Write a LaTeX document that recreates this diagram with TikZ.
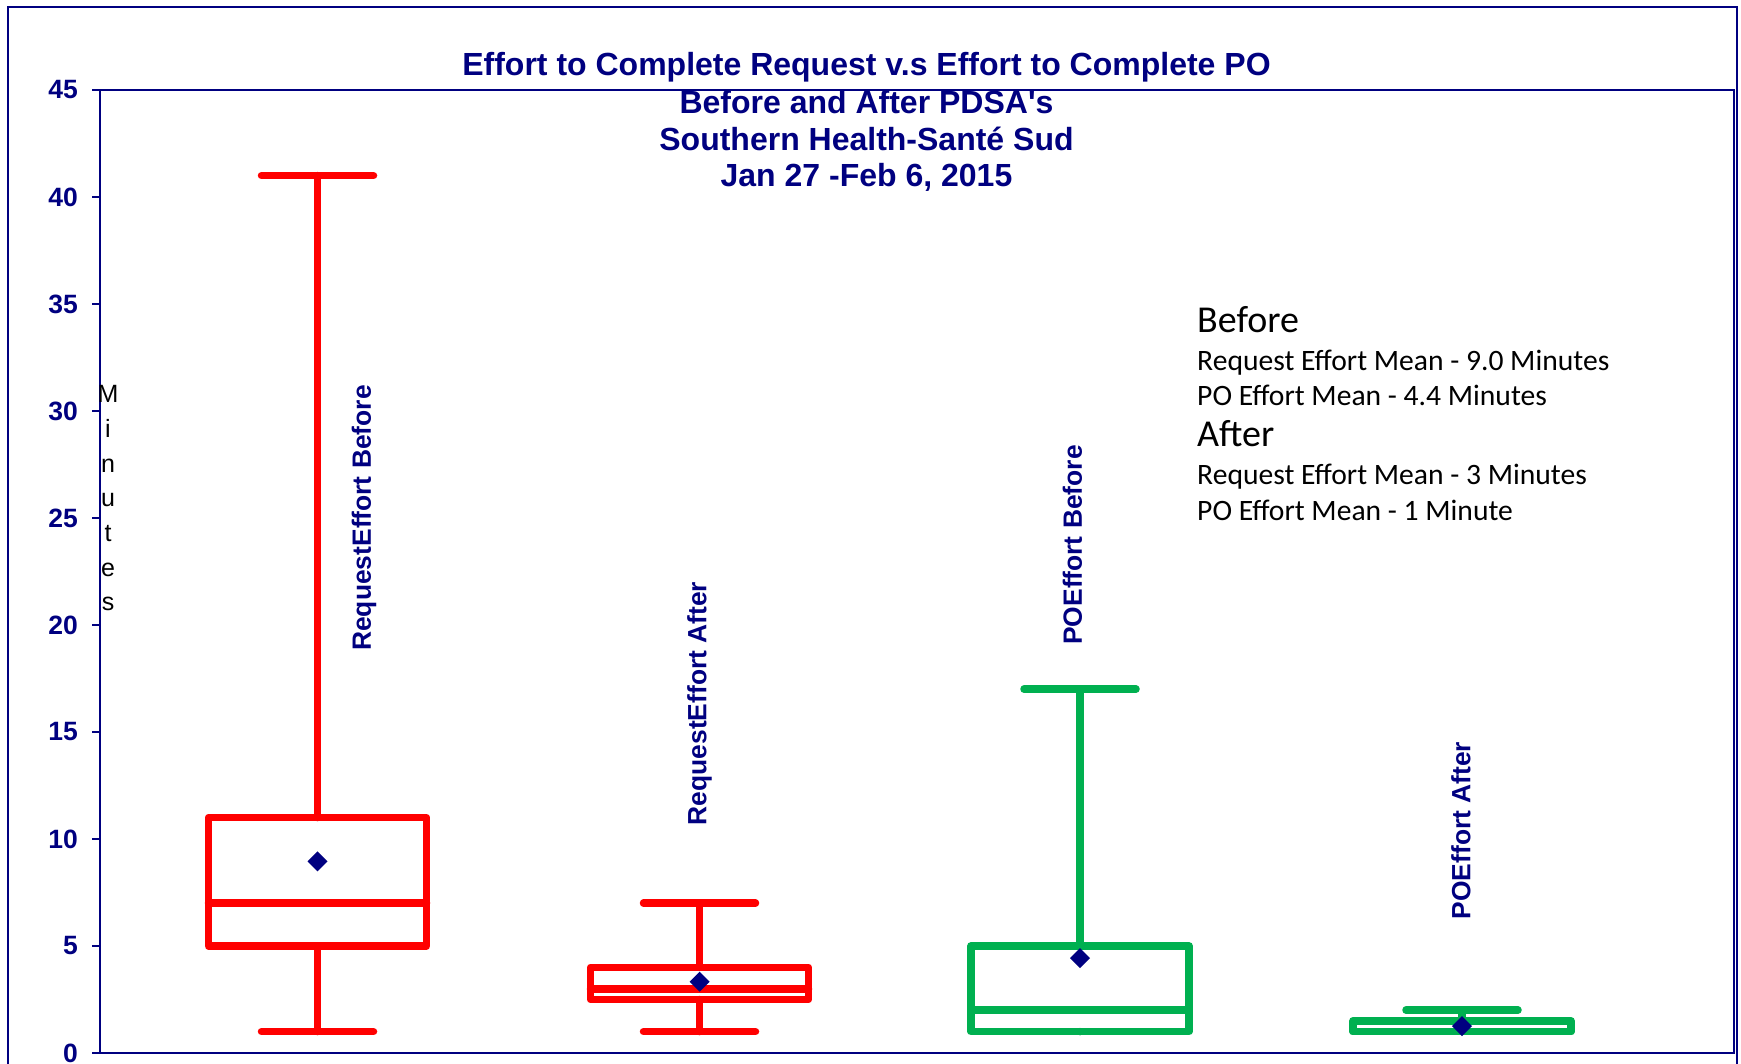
\documentclass[tikz,border=0pt]{standalone}
\usepackage{fontspec}
\setmainfont{Liberation Sans}
\newfontfamily\calibrifont{Carlito}
\definecolor{navyc}{HTML}{000080}
\definecolor{redc}{HTML}{FF0000}
\definecolor{greenc}{HTML}{00B050}
\newcommand{\Yv}[1]{{1053-21.4*(#1)}}
% #1 colour, #2 centre x, #3 min, #4 q1, #5 median, #6 q3, #7 max, #8 mean
\newcommand{\boxplotdraw}[8]{%
  \draw[boxline,#1] ({#2-109},\Yv{#4}) rectangle ({#2+109},\Yv{#6});
  \draw[boxline,#1] ({#2-109},\Yv{#5}) -- ({#2+109},\Yv{#5});
  \draw[boxline,#1] (#2,\Yv{#6}) -- (#2,\Yv{#7});
  \draw[boxline,#1] ({#2-56},\Yv{#7}) -- ({#2+56},\Yv{#7});
  \draw[boxline,#1] (#2,\Yv{#4}) -- (#2,\Yv{#3});
  \draw[boxline,#1] ({#2-56},\Yv{#3}) -- ({#2+56},\Yv{#3});
  \fill[navyc] (#2,\Yv{#8}) ++(0,-10) -- ++(10,10) -- ++(-10,10) -- ++(-10,-10) -- cycle;
}
\begin{document}
\begin{tikzpicture}[x=1pt,y=-1pt,
  boxline/.style={line width=7.5pt,line cap=round,line join=round},
  frameline/.style={draw=navyc,line width=2.8pt},
  ticklbl/.style={font=\fontsize{26.5}{30}\selectfont\bfseries,text=navyc,inner sep=0pt,anchor=east},
  titletxt/.style={font=\fontsize{32}{37}\selectfont\bfseries,text=navyc,inner sep=0pt,anchor=base},
  serieslbl/.style={font=\fontsize{26.4}{30}\selectfont\bfseries,text=navyc,inner sep=0pt,rotate=90},
  axislbl/.style={font=\fontsize{25}{30}\selectfont,text=black,inner sep=0pt,anchor=base},
  notehead/.style={font=\calibrifont\fontsize{38}{42}\selectfont,text=black,inner sep=0pt,anchor=base west},
  noteline/.style={font=\calibrifont\fontsize{29.6}{33}\selectfont,text=black,inner sep=0pt,anchor=base west}]
\useasboundingbox (0,0) rectangle (1741,1064);
\fill[white] (0,0) rectangle (1741,1064);
\clip (0,0) rectangle (1741,1064);
% frames
\draw[frameline] (8,7) rectangle (1737,1090);
\draw[frameline,fill=white] (100,90) rectangle (1734,1053);
% ticks
\foreach \v in {0,5,...,45}{
  \draw[navyc,line width=1.5pt] (92,\Yv{\v}) -- (100,\Yv{\v});
  \node[ticklbl] (t\v) at (78,\Yv{\v}) {\v};
}
% title
\node[titletxt] (ti1) at (866.5,76) {Effort to Complete Request v.s Effort to Complete PO};
\node[titletxt] (ti2) at (866.5,114) {Before and After PDSA\textquotesingle s};
\node[titletxt] (ti3) at (866.5,151) {Southern Health-Santé Sud};
\node[titletxt] (ti4) at (866.5,187) {Jan 27 -Feb 6, 2015};
% y axis label
\node[axislbl] (m1) at (108,403) {M};
\node[axislbl] (m2) at (108,437.6) {i};
\node[axislbl] (m3) at (108,472.2) {n};
\node[axislbl] (m4) at (108,506.8) {u};
\node[axislbl] (m5) at (108,541.4) {t};
\node[axislbl] (m6) at (108,576) {e};
\node[axislbl] (m7) at (108,610.6) {s};
% boxes
\boxplotdraw{redc}{317.5}{1}{5}{7}{11}{41}{8.95}
\boxplotdraw{redc}{699.5}{1}{2.5}{3}{4}{7}{3.33}
\boxplotdraw{greenc}{1080}{1}{1}{2}{5}{17}{4.43}
\boxplotdraw{greenc}{1462}{1}{1}{1}{1.5}{2}{1.26}
% series labels
\node[serieslbl] (s1) at (364,518) {RequestEffort Before};
\node[serieslbl] (s2) at (699.5,703.5) {RequestEffort After};
\node[serieslbl] (s3) at (1072.5,545) {POEffort Before};
\node[serieslbl] (s4) at (1461,830.5) {POEffort After};
% notes
\node[notehead] (n1) at (1197,333) {Before};
\node[noteline] (n2) at (1197,371) {Request Effort Mean - 9.0 Minutes};
\node[noteline] (n3) at (1197,406) {PO Effort Mean - 4.4 Minutes};
\node[notehead] (n4) at (1197,447) {After};
\node[noteline] (n5) at (1197,485) {Request Effort Mean - 3 Minutes};
\node[noteline] (n6) at (1197,520) {PO Effort Mean - 1 Minute};
\end{tikzpicture}
\end{document}
